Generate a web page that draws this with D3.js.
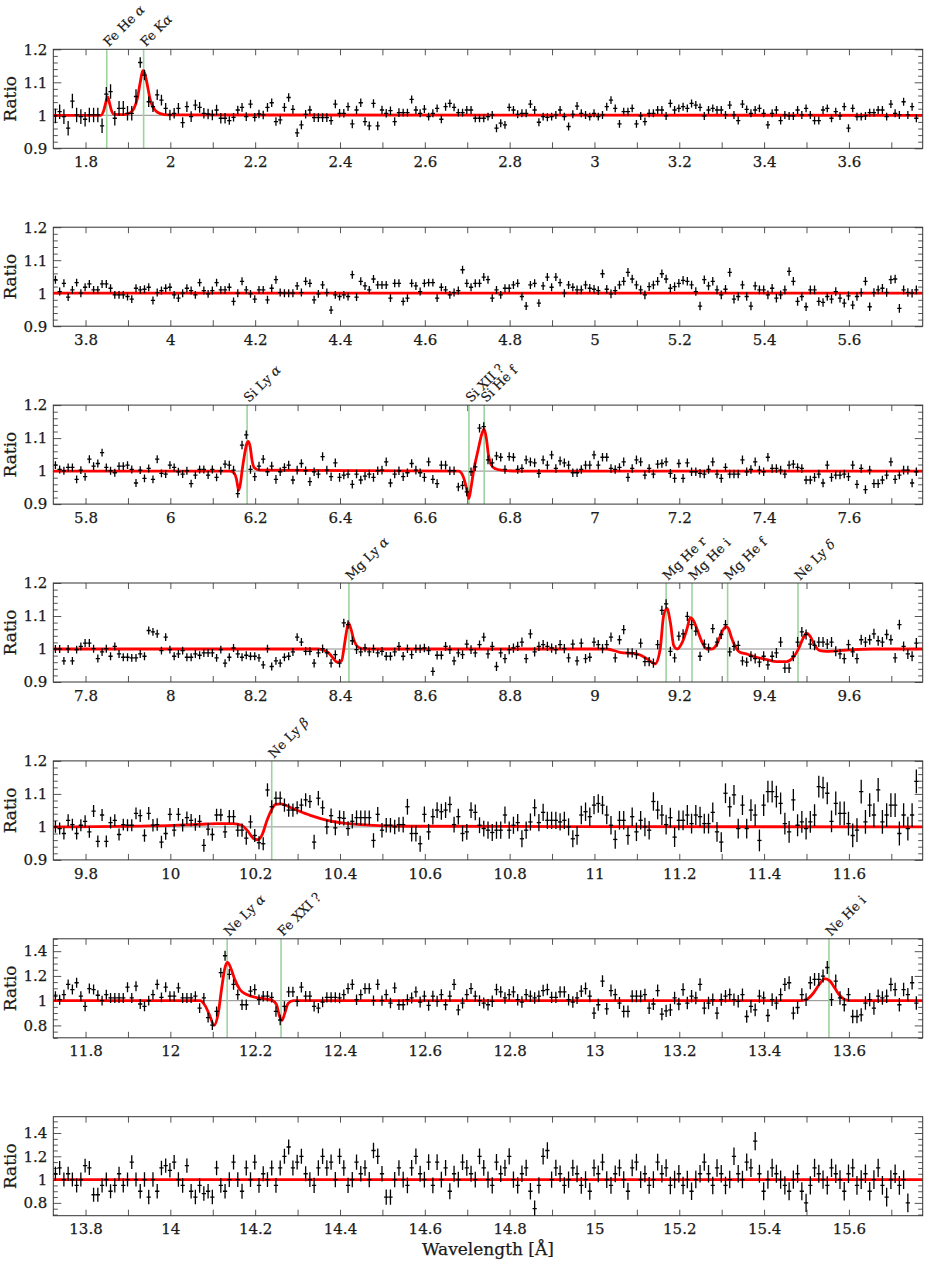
<!DOCTYPE html>
<html>
<head>
<meta charset="utf-8">
<script src="https://cdn.jsdelivr.net/npm/d3@7"></script>
<style>
  body { margin: 0; background: #fff; }
  svg { display: block; }
  text { font-family: "DejaVu Serif", serif; fill: #1a1a1a; stroke: #1a1a1a; stroke-width: 0.25px; }
</style>
</head>
<body>
<div id="chart-area"></div>
<script>
// ---- data ----
// wavelength of the first bin edge of each panel (A), every panel spans 2.05 A, bins of 0.01 A
const panelStart = [1.724, 3.724, 5.724, 7.724, 9.724, 11.724, 13.724];
const binWidth = 0.01;

// data / model ratio per bin
const ratio1 = [0.998,1.011,0.996,0.961,1.043,1.001,0.996,0.988,1.001,1.001,1.001,0.968,1.064,1.072,0.991,1.021,1.021,1.006,1.006,1.057,
1.160,1.122,1.041,1.026,1.062,1.046,1.021,1.001,1.006,1.021,0.978,1.026,0.996,1.031,1.024,1.006,1.004,1.001,1.016,0.991,
0.991,0.984,0.994,1.016,1.024,0.996,1.034,0.994,1.004,1.001,1.024,1.038,0.981,0.986,1.024,1.054,1.018,0.947,0.971,1.003,
1.016,0.993,0.993,0.993,0.993,0.984,1.034,1.006,1.006,1.026,0.974,1.016,1.038,0.981,0.968,1.036,0.968,1.016,1.006,1.014,
0.981,1.008,1.008,1.008,1.048,1.016,1.006,1.019,0.996,1.006,1.021,0.988,1.026,1.036,1.024,1.008,1.008,1.016,1.016,0.991,
0.991,0.991,0.996,1.001,0.961,0.976,0.971,1.024,1.016,1.003,1.006,1.006,1.034,1.016,0.979,0.996,0.994,0.996,1.001,1.016,
0.996,0.966,1.003,1.028,1.006,1.001,0.996,1.006,0.996,1.001,1.026,1.046,1.021,0.974,1.011,1.011,1.021,0.974,0.998,0.981,
1.006,1.006,1.016,1.016,0.998,1.036,1.016,1.021,1.026,1.021,1.036,1.031,1.024,0.998,1.016,1.021,1.016,1.016,1.001,1.031,
1.001,0.984,1.034,1.018,1.006,1.016,1.021,1.006,0.971,1.006,1.016,0.984,1.001,0.998,0.998,1.016,1.001,1.021,1.001,0.984,
0.984,1.016,1.021,0.991,1.011,0.998,1.026,0.961,1.021,0.996,0.996,0.998,1.008,1.008,1.016,1.016,0.996,1.034,1.006,1.001,
1.041,1.001,1.026,0.991];
const ratio2 = [1.041,1.005,1.030,0.988,1.010,1.032,1.000,1.018,1.028,1.010,1.010,1.028,1.028,1.015,0.995,0.995,0.995,0.990,0.982,1.015,
1.010,1.012,1.018,0.978,1.002,1.008,1.015,1.018,0.995,0.985,1.000,1.015,1.008,0.995,1.032,1.008,0.998,1.008,1.032,1.010,
1.010,1.018,0.975,1.000,1.036,1.010,0.998,0.982,1.010,1.010,0.980,1.015,1.041,1.002,1.000,1.000,1.000,1.022,1.002,1.036,
1.030,0.980,0.998,1.025,1.002,0.949,0.995,0.990,0.995,0.990,1.056,0.988,1.036,1.022,1.010,1.043,1.025,1.025,1.025,0.985,
1.030,1.030,0.975,0.985,1.030,1.022,1.005,1.030,1.032,1.032,0.985,1.018,1.010,0.995,1.002,1.008,1.071,1.030,1.018,1.030,
1.030,1.049,1.041,0.985,1.010,0.995,1.015,1.015,1.025,1.030,0.990,0.961,1.025,1.030,0.970,1.022,1.049,1.018,1.049,1.032,
1.000,1.025,1.018,1.010,1.010,1.025,1.015,1.012,1.008,1.059,1.012,0.998,1.008,1.025,1.036,1.063,1.043,1.025,1.010,0.995,
1.020,1.025,1.036,1.059,1.043,1.015,1.020,1.030,1.039,1.036,1.025,1.005,0.961,1.041,1.022,1.036,1.010,0.995,1.012,1.063,
0.982,0.990,1.025,0.990,0.961,1.022,1.010,1.010,0.995,1.015,0.985,0.995,1.010,1.066,1.036,0.975,0.990,0.959,1.010,1.010,
0.975,0.972,0.990,0.982,1.005,0.985,0.970,0.992,0.964,0.990,1.002,1.036,0.959,1.002,1.010,1.015,1.002,1.041,1.043,0.954,
1.010,1.002,1.000,1.010];
const ratio3 = [1.018,1.005,1.001,1.011,1.011,0.975,1.003,0.983,1.036,1.015,1.023,1.056,1.011,1.001,0.995,1.015,1.015,1.018,1.005,0.964,
1.003,0.978,1.008,0.975,1.036,0.993,0.991,1.018,1.011,0.998,0.991,1.001,0.962,0.988,1.005,1.005,0.988,1.005,0.981,1.001,
1.021,1.018,1.003,0.932,1.079,1.110,1.005,0.983,1.015,1.036,0.998,1.015,0.975,0.998,1.011,1.018,0.973,1.003,1.023,1.001,
0.968,0.998,0.991,1.044,1.003,0.983,1.025,0.981,0.988,0.991,0.960,0.991,0.973,0.985,0.991,0.981,1.001,1.003,1.028,0.964,
0.991,1.001,0.983,0.995,1.023,1.003,0.995,0.981,1.028,0.975,0.962,1.018,1.018,1.001,1.001,0.952,0.957,0.937,0.998,1.013,
1.130,1.135,1.034,1.025,1.046,1.042,1.005,1.044,1.042,1.005,1.008,1.034,1.028,1.025,0.993,1.034,1.018,1.049,1.008,1.031,
1.025,1.018,0.995,0.995,1.005,1.018,1.018,1.049,1.018,1.042,1.042,1.008,1.005,1.011,1.028,0.981,1.008,1.034,1.028,0.988,
1.008,0.991,1.021,1.023,1.028,0.993,0.978,1.023,0.978,1.025,0.998,0.998,0.993,0.991,1.005,1.028,0.991,0.978,1.011,0.991,
0.991,0.991,1.034,0.998,1.005,1.028,1.003,0.998,1.042,1.008,1.008,1.003,0.991,1.018,1.021,1.011,1.008,0.973,0.973,0.981,
0.991,0.964,1.018,0.981,0.988,0.988,0.991,0.983,1.018,0.960,1.008,0.944,1.003,0.962,0.962,0.973,0.988,1.028,0.975,0.988,
1.003,1.003,0.964,0.998];
const ratio4 = [1.000,1.000,0.964,1.000,0.964,0.998,1.008,1.018,1.018,1.001,0.971,0.991,1.001,0.978,1.008,0.985,0.975,0.975,0.973,0.973,
0.985,0.978,1.056,1.052,1.046,0.995,1.036,0.998,0.978,0.985,0.995,0.975,0.975,0.985,0.981,0.988,0.988,0.988,0.973,0.998,
0.957,0.975,1.003,0.985,0.975,0.981,0.978,0.978,0.973,0.952,1.001,0.947,0.964,0.957,0.975,0.978,0.991,1.036,1.021,0.993,
0.993,0.957,0.988,1.001,0.988,0.957,0.983,0.957,1.079,1.074,1.025,0.998,0.991,1.003,0.991,1.001,0.988,0.993,0.978,0.978,
0.991,1.008,0.978,1.001,0.983,1.001,1.001,1.003,0.995,0.932,0.981,0.981,1.008,0.998,0.964,0.988,0.983,1.015,0.998,0.988,
1.013,1.036,0.985,1.008,0.947,0.988,0.971,0.998,1.003,1.008,1.021,0.971,1.046,0.991,1.008,1.013,1.008,1.003,0.998,1.013,
1.001,0.973,1.015,0.964,1.018,0.971,0.975,1.021,1.013,1.001,1.013,1.036,0.973,1.028,1.059,0.988,0.988,0.983,1.018,0.962,
0.962,0.957,1.013,1.117,1.137,0.993,0.973,1.039,1.046,1.099,1.074,1.054,0.978,1.015,1.003,1.062,1.021,1.044,1.074,0.991,
1.008,1.011,0.964,0.960,0.978,0.971,0.960,0.978,0.952,0.978,0.988,1.021,0.942,0.942,0.978,1.021,1.052,1.044,1.015,1.011,
1.021,1.021,1.015,1.021,0.993,0.985,0.971,1.013,0.991,0.971,1.028,1.021,1.028,1.046,1.025,1.021,1.044,1.028,0.973,1.074,
1.008,0.985,0.978,1.018];
const ratio5 = [1.000,0.995,0.980,1.020,1.007,0.980,1.005,1.017,0.985,1.048,0.956,1.036,0.956,1.013,1.020,0.977,1.007,1.005,1.005,1.041,
1.034,0.974,1.041,1.005,1.007,0.954,0.980,1.038,0.990,1.038,1.005,1.028,1.020,1.007,1.017,0.944,0.993,0.977,1.036,1.036,
0.985,1.031,1.031,0.990,0.990,0.966,1.015,0.974,0.952,0.949,1.112,1.061,1.087,1.087,1.066,1.051,1.051,1.058,1.066,1.082,
1.077,0.954,1.087,1.058,1.000,1.034,0.997,1.028,1.026,0.995,1.017,1.028,1.028,1.028,1.028,0.959,1.038,0.990,1.005,1.005,
1.000,1.007,1.007,1.061,0.980,0.980,0.949,1.038,0.985,1.031,1.051,1.046,1.051,1.068,1.007,1.031,0.980,0.985,1.051,1.044,
1.005,0.995,0.990,0.983,0.990,0.990,1.036,0.990,1.005,1.013,0.964,0.990,1.015,1.058,1.013,1.044,1.020,1.020,1.020,1.015,
1.020,1.000,0.964,0.974,1.036,1.046,1.031,1.066,1.071,1.066,1.036,1.005,0.962,1.020,1.020,0.974,1.031,0.985,1.020,1.000,
0.990,1.077,1.051,1.036,1.007,1.028,0.969,1.020,1.020,1.036,1.010,1.036,1.031,1.010,1.010,1.044,0.985,0.954,1.102,1.061,
1.097,0.995,1.066,0.995,1.051,1.036,0.959,1.066,1.107,1.107,1.092,1.071,1.010,0.985,1.082,1.005,1.015,0.995,1.015,1.036,
1.122,1.119,1.102,1.017,1.071,1.041,1.041,1.010,0.974,0.990,1.107,1.015,1.066,1.036,1.112,1.015,1.036,1.066,1.066,0.980,
1.036,0.995,1.036,1.138];
const ratio6 = [1.036,1.008,1.049,1.131,1.090,1.145,1.036,0.954,1.098,1.090,1.044,1.000,1.049,1.022,1.022,1.022,1.022,1.109,1.022,1.117,
0.973,0.954,1.000,1.049,1.131,1.027,1.109,1.036,1.036,1.104,1.022,1.022,1.022,1.036,0.940,1.022,0.863,0.803,0.913,1.227,
1.363,1.213,1.131,1.049,0.967,0.967,1.077,1.090,1.008,1.036,1.036,1.027,0.913,0.844,0.954,1.071,1.071,0.995,1.109,1.036,
1.036,0.954,0.940,0.989,1.027,1.027,1.027,1.022,1.049,1.098,1.131,1.008,1.049,1.098,1.098,1.000,1.131,1.000,1.049,0.981,
1.104,0.967,0.967,1.008,1.022,1.071,0.989,1.036,0.962,1.036,0.995,1.049,0.967,1.036,1.131,0.926,0.981,1.049,1.098,1.036,
1.000,0.981,0.967,0.995,1.090,1.071,1.022,1.049,1.071,1.008,0.989,1.049,1.036,1.022,1.036,1.082,1.090,1.027,1.027,1.071,
1.071,1.008,0.989,1.022,1.077,1.098,1.036,0.899,0.967,1.158,0.934,1.082,1.049,0.981,0.913,0.913,1.036,1.036,1.036,1.049,
0.940,0.973,1.082,0.891,0.918,0.926,1.022,0.973,1.090,0.981,1.036,1.022,1.131,0.940,0.981,1.008,0.899,1.008,1.036,1.049,
1.008,0.995,1.049,0.872,0.954,0.926,1.036,1.022,0.880,1.008,0.981,1.049,1.131,1.145,0.899,0.945,1.049,1.008,1.145,1.172,
1.172,1.199,1.268,1.008,1.158,1.022,0.967,1.049,0.872,0.872,0.885,0.981,1.008,0.940,1.036,1.022,1.036,1.131,1.090,0.967,
1.090,1.049,1.145,0.981];
const ratio7 = [1.05,1.10,1.00,1.05,1.00,0.95,1.00,1.12,1.10,0.87,0.87,
0.95,1.00,0.90,0.95,1.05,0.95,1.00,1.15,1.00,0.90,1.00,0.85,1.00,0.90,
1.10,1.12,1.08,1.15,1.00,0.95,1.12,0.90,0.85,0.95,0.88,0.90,0.85,1.10,0.95,0.90,1.00,1.15,1.00,0.90,
1.10,1.00,1.15,0.95,1.05,1.00,1.10,0.95,1.10,1.20,1.28,1.10,1.15,1.20,1.05,1.00,0.95,1.10,1.20,1.10,
1.15,1.00,1.20,1.10,0.95,1.00,1.15,1.05,1.10,1.00,1.25,1.20,1.05,0.85,0.85,1.00,1.10,1.00,0.95,1.10,
1.20,1.05,1.00,1.15,0.95,1.15,1.00,1.10,0.90,1.05,1.00,1.15,1.10,1.05,1.00,1.20,1.10,1.00,0.95,1.15,
1.05,1.10,1.20,1.00,0.95,1.05,1.10,0.90,0.75,0.95,1.20,1.25,1.00,1.10,1.05,0.95,1.00,1.10,1.05,0.95,
1.00,0.90,1.10,1.05,1.15,1.00,0.95,1.05,1.10,1.00,0.90,1.10,1.15,1.00,1.05,0.95,1.00,1.15,1.05,1.10,
0.95,1.00,1.05,0.95,1.00,0.90,1.00,1.05,1.15,1.05,0.95,1.10,1.05,0.95,1.00,1.20,1.05,1.00,1.15,1.10,
1.33,1.05,0.90,1.00,1.10,1.05,1.00,0.95,0.90,1.00,1.05,0.90,0.80,0.95,1.10,1.05,1.00,0.95,1.10,1.05,
1.00,0.90,1.05,1.10,0.95,1.00,1.05,0.90,1.00,1.10,0.95,0.85,1.00,1.05,0.95,1.00,0.80];

// typical half error bar, one value for each tenth of a panel
const err1 = [0.022,0.016,0.013,0.013,0.012,0.012,0.012,0.012,0.012,0.012];
const err2 = [0.012,0.012,0.012,0.012,0.012,0.012,0.013,0.013,0.013,0.013];
const err3 = [0.012,0.012,0.013,0.013,0.013,0.013,0.013,0.013,0.013,0.013];
const err4 = [0.012,0.012,0.012,0.013,0.013,0.014,0.014,0.014,0.015,0.015];
const err5 = [0.018,0.019,0.020,0.022,0.024,0.026,0.028,0.030,0.033,0.036];
const err6 = [0.040,0.040,0.042,0.042,0.044,0.046,0.048,0.050,0.052,0.054];
const err7 = [0.060,0.062,0.064,0.066,0.068,0.070,0.072,0.075,0.078,0.080];

// best fit model (ratio), sampled off the red curve
const model1 = [[1.724,1],[1.836,1.0],[1.843,1.015],[1.848,1.04],[1.852,1.056],[1.856,1.04],[1.861,1.015],[1.867,1.003],[1.89,1.002],
  [1.905,1.007],[1.914,1.02],[1.922,1.05],[1.929,1.1],[1.935,1.135],[1.94,1.125],[1.946,1.09],[1.952,1.05],[1.958,1.028],
  [1.966,1.013],[1.976,1.005],[1.995,1.001],[3.774,1]];
const model2 = [[3.724,1],[5.774,1]];
const model3 = [[5.724,1],[6.14,1],[6.15,0.995],[6.156,0.975],[6.161,0.942],[6.165,0.96],[6.169,1.0],[6.175,1.05],[6.18,1.082],
  [6.184,1.09],[6.188,1.075],[6.193,1.03],[6.198,1.01],[6.21,1.003],[6.68,1.0],[6.69,0.985],[6.698,0.95],[6.704,0.917],
  [6.709,0.95],[6.715,1.0],[6.725,1.06],[6.735,1.115],[6.74,1.127],[6.745,1.1],[6.75,1.05],[6.756,1.02],[6.765,1.008],
  [6.78,1.003],[6.82,1.0],[7.774,1]];
const model4 = [[7.724,1],[8.35,1.0],[8.372,0.99],[8.382,0.975],[8.394,0.96],[8.404,0.965],[8.409,1.0],[8.415,1.05],[8.42,1.079],
  [8.426,1.06],[8.432,1.03],[8.444,1.005],[8.456,1.0],[9.029,1.0],[9.06,0.99],[9.1,0.985],[9.124,0.97],[9.143,0.955],
  [9.155,1.0],[9.163,1.1],[9.171,1.123],[9.179,1.08],[9.187,1.01],[9.195,1.0],[9.207,1.02],[9.218,1.06],[9.226,1.095],
  [9.234,1.085],[9.242,1.06],[9.254,1.02],[9.265,1.0],[9.277,1.0],[9.289,1.015],[9.3,1.05],[9.31,1.068],[9.316,1.062],
  [9.323,1.035],[9.331,1.01],[9.343,0.99],[9.358,0.985],[9.382,0.975],[9.406,0.968],[9.43,0.962],[9.453,0.962],
  [9.469,0.975],[9.481,1.0],[9.491,1.03],[9.5,1.048],[9.508,1.04],[9.52,1.01],[9.532,0.995],[9.547,0.993],[9.579,0.995],
  [9.61,0.998],[9.657,1.0],[9.774,1]];
const model5 = [[9.724,1],[9.952,1.003],[10.07,1.008],[10.11,1.01],[10.148,1.01],[10.168,1.005],[10.184,0.985],[10.196,0.965],
  [10.206,0.961],[10.216,0.975],[10.228,1.02],[10.24,1.055],[10.248,1.068],[10.26,1.07],[10.29,1.055],[10.33,1.035],
  [10.37,1.02],[10.42,1.01],[10.49,1.004],[10.57,1.002],[11.774,1]];
const model6 = [[11.724,1],[12.07,1.0],[12.082,0.96],[12.094,0.87],[12.103,0.80],[12.113,0.9],[12.121,1.1],[12.129,1.27],
  [12.135,1.31],[12.144,1.25],[12.152,1.17],[12.164,1.09],[12.18,1.05],[12.203,1.025],[12.227,1.012],[12.242,1.0],
  [12.25,0.97],[12.258,0.87],[12.263,0.84],[12.27,0.9],[12.278,0.98],[12.29,1.0],[13.485,1.0],[13.5,1.01],[13.516,1.06],
  [13.532,1.14],[13.543,1.178],[13.555,1.16],[13.567,1.1],[13.579,1.04],[13.59,1.01],[13.602,1.0],[13.774,1]];
const model7 = [[13.724,1],[15.774,1]];

// identified lines: label, wavelength (A)
const lines1 = [["Fe He α", 1.850], ["Fe Kα", 1.937]];
const lines2 = [];
const lines3 = [["Si Ly α", 6.181], ["Si XII ?", 6.704], ["Si He f", 6.740]];
const lines4 = [["Mg Ly α", 8.421], ["Mg He r", 9.169], ["Mg He i", 9.230], ["Mg He f", 9.314], ["Ne Ly δ", 9.480]];
const lines5 = [["Ne Ly β", 10.239]];
const lines6 = [["Ne Ly α", 12.134], ["Fe XXI ?", 12.261], ["Ne He i", 13.553]];
const lines7 = [];

// y axis settings per panel
const yDomains = [[0.9, 1.2], [0.9, 1.2], [0.9, 1.2], [0.9, 1.2], [0.9, 1.2], [0.7, 1.5], [0.69, 1.54]];
const yMajorTicks = [[0.9, 1, 1.1, 1.2], [0.9, 1, 1.1, 1.2], [0.9, 1, 1.1, 1.2], [0.9, 1, 1.1, 1.2], [0.9, 1, 1.1, 1.2],
  [0.8, 1, 1.2, 1.4], [0.8, 1, 1.2, 1.4]];
const yMinorStep = [0.02, 0.02, 0.02, 0.02, 0.02, 0.05, 0.05];

const ratios = [ratio1, ratio2, ratio3, ratio4, ratio5, ratio6, ratio7];
const errs = [err1, err2, err3, err4, err5, err6, err7];
const models = [model1, model2, model3, model4, model5, model6, model7];
const lineSets = [lines1, lines2, lines3, lines4, lines5, lines6, lines7];

// ---- layout ----
const width = 926, height = 1262;
const plotLeft = 53.3, plotRight = 922.7;
const plotW = plotRight - plotLeft;
const panelTop0 = 49.3, panelStep = 177.9, panelH = 99;
const span = 2.05;

const svg = d3.select("#chart-area").append("svg")
  .attr("width", width).attr("height", height);

const defs = svg.append("defs");
const labelLayer = svg.append("g").attr("class", "labels");

panelStart.forEach((lo, k) => {
  const top = panelTop0 + k * panelStep;
  const g = svg.append("g").attr("transform", `translate(${plotLeft},${top})`);

  const x = d3.scaleLinear().domain([lo, lo + span]).range([0, plotW]);
  const y = d3.scaleLinear().domain(yDomains[k]).range([panelH, 0]);

  defs.append("clipPath").attr("id", "clip" + k)
    .append("rect").attr("width", plotW).attr("height", panelH);

  // x ticks every 0.1, labels every 0.2
  const xt = d3.range(Math.ceil(lo * 10 - 1e-6), Math.floor((lo + span) * 10 + 1e-6) + 1).map(v => v / 10);
  const fmtX = v => (Math.round(v * 10) % 2 === 0) ? String(+v.toFixed(1)) : "";

  g.append("g").attr("class", "axis")
    .attr("transform", `translate(0,${panelH})`)
    .call(d3.axisBottom(x).tickValues(xt).tickFormat(fmtX).tickSizeInner(-6).tickSizeOuter(0).tickPadding(8));
  g.append("g").attr("class", "axis")
    .call(d3.axisTop(x).tickValues(xt).tickFormat("").tickSizeInner(-6).tickSizeOuter(0));

  // y ticks
  const [y0, y1] = yDomains[k];
  const step = yMinorStep[k];
  const minor = d3.range(Math.ceil(y0 / step - 1e-6), Math.floor(y1 / step + 1e-6) + 1).map(v => +(v * step).toFixed(3))
    .filter(v => !yMajorTicks[k].some(m => Math.abs(m - v) < 1e-6));

  g.append("g").attr("class", "axis")
    .call(d3.axisLeft(y).tickValues(yMajorTicks[k]).tickFormat(d => String(d)).tickSizeInner(-8).tickSizeOuter(0).tickPadding(6));
  g.append("g").attr("class", "axis")
    .call(d3.axisLeft(y).tickValues(minor).tickFormat("").tickSizeInner(-4.5).tickSizeOuter(0));
  g.append("g").attr("class", "axis")
    .attr("transform", `translate(${plotW},0)`)
    .call(d3.axisRight(y).tickValues(yMajorTicks[k]).tickFormat("").tickSizeInner(-8).tickSizeOuter(0));
  g.append("g").attr("class", "axis")
    .attr("transform", `translate(${plotW},0)`)
    .call(d3.axisRight(y).tickValues(minor).tickFormat("").tickSizeInner(-4.5).tickSizeOuter(0));

  g.selectAll(".axis .domain").remove();
  g.selectAll(".axis line").attr("stroke", "#555").attr("stroke-width", 1);
  g.selectAll(".axis text").attr("font-size", 15).attr("font-family", "DejaVu Serif, serif").attr("fill", "#1a1a1a");

  // y label
  svg.append("text")
    .attr("transform", `translate(15.5,${top + panelH / 2}) rotate(-90)`)
    .attr("text-anchor", "middle")
    .attr("font-size", 17)
    .text("Ratio");

  const inner = g.append("g").attr("clip-path", `url(#clip${k})`);

  // unity reference line
  inner.append("line")
    .attr("x1", 0).attr("x2", plotW)
    .attr("y1", y(1)).attr("y2", y(1))
    .attr("stroke", "#8c8c8c").attr("stroke-width", 1);

  // line identifications
  inner.selectAll(".idline")
    .data(lineSets[k])
    .enter()
    .append("line")
    .attr("x1", d => x(d[1])).attr("x2", d => x(d[1]))
    .attr("y1", 0).attr("y2", panelH)
    .attr("stroke", "#9ed39e").attr("stroke-width", 1.6);

  // labels, rotated 45 degrees, drawn in page coordinates
  lineSets[k].forEach(d => {
    const px = plotLeft + x(d[1]) + 2;
    const lg = labelLayer.append("g")
      .attr("transform", `translate(${px.toFixed(2)},${(top - 2).toFixed(2)}) rotate(-45)`);
    const t = lg.append("text")
      .attr("font-size", 13)
      .style("stroke-width", "0.15px");
    const name = d[0];
    const last = name.slice(-1);
    if ("αβδ".includes(last)) {
      t.append("tspan").text(name.slice(0, -1));
      t.append("tspan").attr("font-style", "italic").text(last);
    } else {
      t.text(name);
    }
  });

  // model
  const lineGen = d3.line()
    .x(d => x(d[0]))
    .y(d => y(d[1]))
    .curve(d3.curveMonotoneX);

  inner.append("path")
    .datum(models[k])
    .attr("d", lineGen)
    .attr("fill", "none")
    .attr("stroke", "#ff0000")
    .attr("stroke-width", 2.8)
    .attr("stroke-linejoin", "round");

  // data points with error bars
  const pts = ratios[k].map((v, i) => {
    const c = lo + (i + 0.5) * binWidth;
    const seg = Math.min(9, Math.max(0, Math.floor((c - lo) / span * 10)));
    return { c, v, e: errs[k][seg] };
  });

  const pg = inner.selectAll(".pt")
    .data(pts)
    .enter()
    .append("g")
    .attr("class", "pt");

  pg.append("line")
    .attr("x1", d => x(d.c)).attr("x2", d => x(d.c))
    .attr("y1", d => y(d.v - d.e)).attr("y2", d => y(d.v + d.e))
    .attr("stroke", "#000").attr("stroke-width", 1.3);

  pg.append("line")
    .attr("x1", d => x(d.c - binWidth / 2)).attr("x2", d => x(d.c + binWidth / 2))
    .attr("y1", d => y(d.v)).attr("y2", d => y(d.v))
    .attr("stroke", "#000").attr("stroke-width", 1.3);

  // frame
  g.append("rect")
    .attr("width", plotW).attr("height", panelH)
    .attr("fill", "none").attr("stroke", "#333").attr("stroke-width", 1);
});

// x label
svg.append("text")
  .attr("x", plotLeft + plotW / 2)
  .attr("y", 1255)
  .attr("text-anchor", "middle")
  .attr("font-size", 17)
  .text("Wavelength [Å]");
</script>
</body>
</html>
